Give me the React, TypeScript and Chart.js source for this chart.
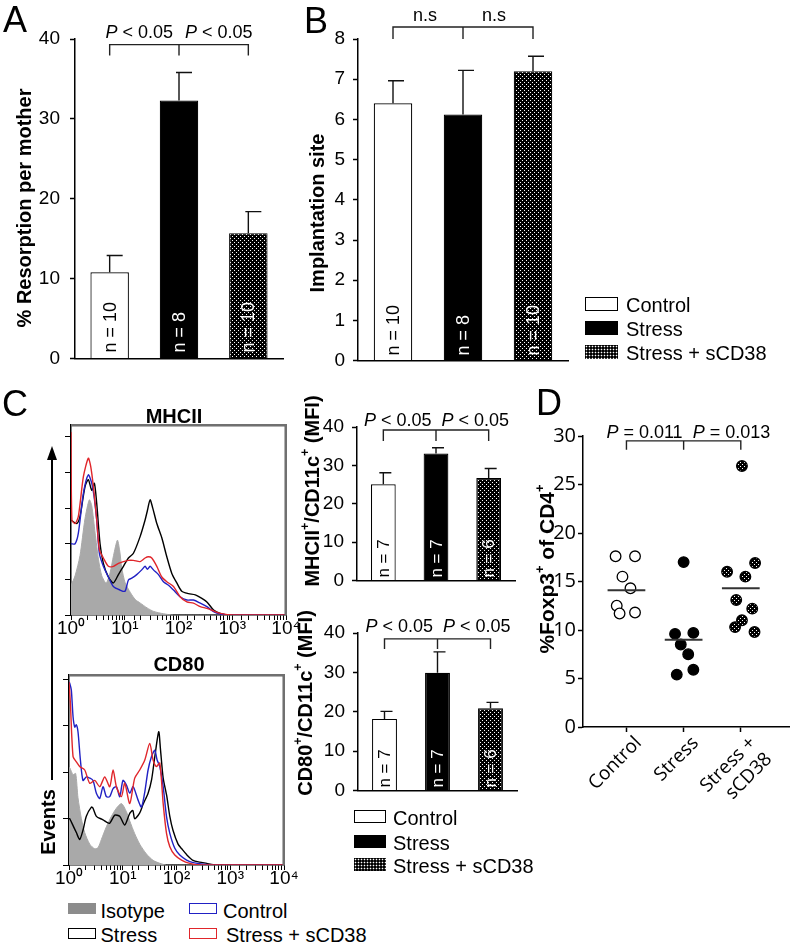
import React, { useEffect, useRef } from 'react';
import { Chart, registerables } from 'chart.js';

Chart.register(...registerables);

const SANS = '"Liberation Sans", Arial, Helvetica, sans-serif';
const OPEN = '"Open Sans", "Liberation Sans", sans-serif';
Chart.defaults.font.family = SANS;
Chart.defaults.color = '#000';

// ---------------- data ----------------
const groups = ['Control', 'Stress', 'Stress + sCD38'];

// A: % resorption per mother
const resorptionMean = [10.8, 32.3, 15.7];
const resorptionSem = [2.1, 3.5, 2.7];
const resorptionN = [10, 8, 10];

// B: implantation site
const implantMean = [6.4, 6.12, 7.2];
const implantSem = [0.56, 1.1, 0.37];
const implantN = [10, 8, 10];

// C: MFI bars
const mhcMean = [25.1, 33.1, 26.7];
const mhcSem = [3.0, 1.5, 2.5];
const cd80Mean = [18.2, 29.9, 20.9];
const cd80Sem = [1.9, 5.3, 1.5];
const mfiN = [7, 7, 6];

// C: histograms (fluorescence, events)
const mhcIsoX = [1.0, 1.19, 1.47, 1.82, 2.19, 2.43, 2.81, 3.24, 3.74, 4.51, 5.36, 6.18, 7.3, 8.0, 8.85, 10.2, 12.7, 15.7, 19.5, 26, 34.6, 53, 82, 10000];
const mhcIsoY = [25, 33, 50, 81, 97, 92, 69, 47, 33, 27, 36, 50, 63, 55, 39, 27, 19, 13, 10, 6, 3, 1, 0, 0];
const mhcStressX = [1.0, 1.28, 1.47, 1.82, 2.1, 2.43, 2.72, 3.01, 3.47, 4.0, 4.96, 6.15, 7.62, 9.44, 11.7, 14.5, 19.3, 23.9, 26.4, 29.6, 33.2, 39.5, 48.9, 60.6, 75.1, 93, 115, 154, 205, 272, 337, 449, 598, 918, 10000];
const mhcStressY = [80, 77, 83, 108, 114, 105, 111, 94, 60, 43.5, 32, 27, 34, 41, 48, 52, 66, 80, 88, 97, 90, 77, 65, 49, 35, 27, 20, 18, 17, 14, 11, 4.2, 1.4, 0, 0];
const mhcControlX = [1.0, 1.19, 1.37, 1.7, 2.1, 2.43, 2.72, 3.01, 3.37, 4.0, 4.96, 6.15, 8.19, 10.1, 11.7, 13.5, 16.7, 20.7, 23.9, 26.4, 29.6, 34.2, 42.4, 52.5, 65.2, 80.7, 107, 143, 190, 254, 337, 449, 598, 918, 10000];
const mhcControlY = [60, 60, 69, 102.5, 118, 111, 98, 80, 52, 41, 32, 24, 21, 20, 29.5, 31, 34, 38, 41, 38.5, 41, 38, 34, 28, 25, 21, 15.4, 12.6, 12.6, 10, 7, 2.8, 0.8, 0, 0];
const mhcSCDX = [1.0, 1.04, 1.19, 1.37, 1.7, 2.1, 2.33, 2.61, 3.01, 3.37, 4.0, 4.96, 6.15, 7.62, 9.44, 11.7, 14.5, 19.3, 23.9, 27.6, 31.8, 39.5, 48.9, 60.6, 80.7, 107, 143, 190, 254, 337, 449, 598, 1060, 10000];
const mhcSCDY = [154, 80, 77, 83, 116.5, 132, 125, 108, 80, 55, 48, 41, 41, 43.5, 45, 46, 46, 45, 48, 49, 48, 41, 32, 28, 24, 15.4, 11, 10, 7, 5.6, 3.4, 1.4, 0, 0];

const cd80IsoX = [1.0, 1.03, 1.19, 1.33, 1.47, 1.7, 1.96, 2.43, 3.01, 3.47, 4.0, 4.96, 6.15, 7.62, 9.5, 11.7, 13.5, 16.7, 20.7, 27.6, 36.7, 48.9, 65.2, 10000];
const cd80IsoY = [84, 84, 78, 79, 58, 40, 28, 18, 14, 15, 22, 33, 42, 49, 53, 46, 38, 27, 18, 9.5, 4, 1.5, 0, 0];
const cd80StressX = [1.0, 1.03, 1.19, 1.37, 1.58, 1.82, 2.1, 2.61, 2.8, 3.23, 4.3, 4.99, 5.72, 7.1, 8.79, 10.9, 13.5, 15.4, 16.7, 20.7, 23.7, 29.6, 34.5, 39.5, 46.7, 50.3, 56.5, 65.6, 75.1, 86, 107, 125, 154, 203, 270, 366, 482, 10000];
const cd80StressY = [40, 40, 34, 28, 22, 30, 42, 50, 49, 42, 39, 37, 36, 43, 42, 34.5, 44.6, 47, 40, 45, 52, 62, 74, 93.5, 115, 100, 75, 60, 42, 30, 18, 14, 9, 4, 2.5, 1.4, 0.3, 0];
const cd80ControlX = [1.0, 1.03, 1.105, 1.19, 1.28, 1.37, 1.47, 1.63, 1.82, 2.1, 2.43, 2.8, 3.23, 3.73, 4.3, 4.96, 5.72, 6.61, 7.62, 8.79, 10.1, 11.7, 13.5, 15.6, 19.3, 22.3, 25.7, 29.6, 34.2, 39.5, 43.6, 48.9, 56.5, 65.2, 75.1, 93, 115, 154, 205, 314, 482, 10000];
const cd80ControlY = [158, 157, 151, 128, 119, 121, 115, 90.6, 73, 76, 75, 73, 62, 57.5, 67.6, 59, 59, 66, 67.6, 59, 73, 69, 62, 67.6, 56, 50, 63, 82, 93.5, 99, 90.6, 85, 67.6, 41.7, 27.3, 14.4, 8.6, 4.3, 2, 0.6, 0, 0];
const cd80SCDX = [1.0, 1.06, 1.19, 1.37, 1.58, 1.96, 2.43, 3.01, 3.73, 4.62, 5.72, 6.61, 7.62, 9.44, 10.9, 13.5, 16.7, 20.7, 25.7, 31.8, 36.7, 42.4, 48.9, 56.5, 65.2, 75.1, 93, 124, 177, 272, 10000];
const cd80SCDY = [158, 140, 93.5, 89, 85, 82, 70.5, 73, 67.6, 76, 67.6, 82, 67.6, 59, 70.5, 53, 75, 82, 90.6, 105, 90.6, 85, 88, 53, 27.3, 15.8, 8.6, 4.3, 1.4, 0, 0];

const logTickSup = ['\u2070', '\u00B9', '\u00B2', '\u00B3', '\u2074'];

// D: %Foxp3+ of CD4+
const foxControl = [17.6, 17.6, 15.5, 14.3, 12.5, 11.7, 11.8];
const foxControlJitter = [-0.19, 0.15, -0.07, 0.07, -0.17, -0.12, 0.15];
const foxStress = [17.0, 9.6, 9.7, 8.5, 7.5, 5.4, 5.9];
const foxStressJitter = [0, -0.15, 0.17, -0.05, 0.08, -0.12, 0.17];
const foxSCD = [26.9, 16.0, 16.9, 15.5, 13.1, 12.2, 11.0, 10.3, 9.8];
const foxSCDJitter = [0.02, -0.24, 0.25, 0.08, -0.08, 0.2, 0.02, -0.1, 0.24];
const foxMean = [14.1, 9.0, 14.3];
const dLabels: (string | string[])[] = ['Control', 'Stress', ['Stress +', 'sCD38']];

// ---------------- helpers ----------------
type Seg = { t: string; i?: boolean; sup?: boolean };
const P_LT: Seg[] = [{ t: 'P', i: true }, { t: ' < 0.05' }];

function segFont(s: Seg, size: number, bold: boolean, fam: string) {
  const sz = s.sup ? size * 0.62 : size;
  return `${s.i ? 'italic ' : ''}${bold ? 'bold ' : ''}${sz}px ${fam}`;
}

function drawSegs(ctx: CanvasRenderingContext2D, segs: Seg[], x: number, y: number, align: 'left' | 'center' | 'right', size: number, bold = false, fam = SANS) {
  ctx.textBaseline = 'middle';
  ctx.textAlign = 'left';
  const widths = segs.map((s) => {
    ctx.font = segFont(s, size, bold, fam);
    return ctx.measureText(s.t).width;
  });
  const total = widths.reduce((a, b) => a + b, 0);
  let cx = align === 'left' ? x : align === 'right' ? x - total : x - total / 2;
  segs.forEach((s, k) => {
    ctx.font = segFont(s, size, bold, fam);
    ctx.fillText(s.t, cx, s.sup ? y - size * 0.36 : y);
    cx += widths[k];
  });
}

function makeDots(): CanvasPattern | string {
  const c = document.createElement('canvas');
  c.width = 4;
  c.height = 4;
  const g = c.getContext('2d');
  if (!g) return '#333';
  g.fillStyle = '#000';
  g.fillRect(0, 0, 4, 4);
  g.fillStyle = '#fff';
  g.fillRect(0, 0, 1, 1);
  g.fillRect(2, 2, 1, 1);
  return g.createPattern(c, 'repeat') || '#333';
}

interface BarSpec {
  means: number[]; sems: number[]; ns: number[];
  yMax: number; yStep: number;
  pad: { top: number; right: number; bottom: number; left: number };
  yWidth: number; tickSize: number; tickPad: number; barPct: number;
  capL: number; capR: number; nSize: number; nGap: number;
  title: Seg[]; titleSize: number; titleAt: [number, number];
  bracketAt: number; bracketDrop: number; textUp: number;
  texts: [Seg[], Seg[]]; textMode: 'split' | 'center'; textGap: [number, number]; textSize: number;
}

function barConfig(spec: BarSpec): any {
  const dots = makeDots();
  const decor = {
    id: 'barDecor',
    afterDraw(chart: any) {
      const ctx: CanvasRenderingContext2D = chart.ctx;
      const ys = chart.scales.y;
      const meta = chart.getDatasetMeta(0);
      const cx: number[] = meta.data.map((b: any) => b.x);
      const y0 = ys.getPixelForValue(0);
      ctx.save();
      ctx.strokeStyle = '#111';
      ctx.lineWidth = 1.4;
      cx.forEach((x, i) => {
        const top = ys.getPixelForValue(spec.means[i]);
        const tip = ys.getPixelForValue(spec.means[i] + spec.sems[i]);
        ctx.beginPath();
        ctx.moveTo(x, top);
        ctx.lineTo(x, tip);
        ctx.moveTo(x + spec.capL, tip);
        ctx.lineTo(x + spec.capR, tip);
        ctx.stroke();
        ctx.save();
        ctx.translate(x, y0 - spec.nGap);
        ctx.rotate(-Math.PI / 2);
        ctx.fillStyle = i === 0 ? '#000' : '#fff';
        ctx.font = `${spec.nSize}px ${SANS}`;
        ctx.textAlign = 'left';
        ctx.textBaseline = 'middle';
        ctx.fillText(`n = ${spec.ns[i]}`, 0, 1);
        ctx.restore();
      });
      const by = ys.getPixelForValue(spec.bracketAt);
      const d = spec.bracketDrop;
      ctx.strokeStyle = '#222';
      ctx.beginPath();
      ctx.moveTo(cx[0], by + d);
      ctx.lineTo(cx[0], by);
      ctx.lineTo(cx[2], by);
      ctx.lineTo(cx[2], by + d);
      ctx.moveTo(cx[1], by);
      ctx.lineTo(cx[1], by + d);
      ctx.stroke();
      ctx.fillStyle = '#000';
      const ty = by - spec.textUp;
      if (spec.textMode === 'split') {
        drawSegs(ctx, spec.texts[0], cx[1] - spec.textGap[0], ty, 'right', spec.textSize);
        drawSegs(ctx, spec.texts[1], cx[1] + spec.textGap[1], ty, 'left', spec.textSize);
      } else {
        drawSegs(ctx, spec.texts[0], (cx[0] + cx[1]) / 2 + spec.textGap[0], ty, 'center', spec.textSize);
        drawSegs(ctx, spec.texts[1], (cx[1] + cx[2]) / 2 + spec.textGap[1], ty, 'center', spec.textSize);
      }
      ctx.translate(spec.titleAt[0], spec.titleAt[1]);
      ctx.rotate(-Math.PI / 2);
      drawSegs(ctx, spec.title, 0, 0, 'center', spec.titleSize, true);
      ctx.restore();
    },
  };
  return {
    type: 'bar',
    data: {
      labels: groups,
      datasets: [
        {
          data: spec.means,
          backgroundColor: ['#ffffff', '#000000', dots],
          borderColor: '#000',
          borderWidth: 1.2,
          barPercentage: spec.barPct,
          categoryPercentage: 1,
        },
      ],
    },
    options: {
      animation: false,
      responsive: false,
      devicePixelRatio: 1,
      layout: { padding: spec.pad },
      plugins: { legend: { display: false }, tooltip: { enabled: false } },
      scales: {
        x: {
          type: 'category',
          offset: true,
          grid: { display: false },
          ticks: { display: false },
          border: { display: true, color: '#000', width: 1.5 },
          afterFit: (s: any) => { s.height = 0; },
        },
        y: {
          min: 0,
          max: spec.yMax,
          ticks: { stepSize: spec.yStep, font: { size: spec.tickSize, family: SANS }, color: '#000', padding: spec.tickPad },
          grid: { drawOnChartArea: false, drawTicks: true, tickLength: 5, tickColor: '#000', tickWidth: 1.5 },
          border: { display: true, color: '#000', width: 1.5 },
          afterFit: (s: any) => { s.width = spec.yWidth; },
        },
      },
    },
    plugins: [decor],
  };
}

function histConfig(series: { x: number[]; y: number[]; color: string; fill?: boolean }[], yMax: number, yStep: number, pad: any, yWidth: number): any {
  const frame = {
    id: 'histFrame',
    afterDraw(chart: any) {
      const ctx: CanvasRenderingContext2D = chart.ctx;
      const a = chart.chartArea;
      ctx.save();
      ctx.strokeStyle = '#666666';
      ctx.lineWidth = 1.5;
      ctx.beginPath();
      ctx.moveTo(a.left, a.top + 0.75);
      ctx.lineTo(a.right - 0.75, a.top + 0.75);
      ctx.lineTo(a.right - 0.75, a.bottom);
      ctx.stroke();
      ctx.restore();
    },
  };
  return {
    type: 'line',
    data: {
      datasets: series.map((s, k) => ({
        data: s.x.map((x, i) => ({ x, y: s.y[i] })),
        borderColor: s.color,
        backgroundColor: s.fill ? '#a9a9a9' : 'transparent',
        fill: s.fill ? 'origin' : false,
        borderWidth: s.fill ? 1 : 1.4,
        pointRadius: 0,
        tension: 0.25,
        order: series.length - k,
      })),
    },
    options: {
      animation: false,
      responsive: false,
      devicePixelRatio: 1,
      layout: { padding: pad },
      plugins: { legend: { display: false }, tooltip: { enabled: false } },
      scales: {
        x: {
          type: 'logarithmic',
          min: 1,
          max: 10000,
          ticks: {
            autoSkip: false,
            maxRotation: 0,
            minRotation: 0,
            padding: -3,
            font: { size: 19, family: SANS },
            color: '#000',
            callback: (v: any) => {
              const l = Math.log10(Number(v));
              const r = Math.round(l);
              return Math.abs(l - r) < 1e-6 ? '10' + logTickSup[r] : '';
            },
          },
          grid: { drawOnChartArea: false, drawTicks: true, tickLength: 5, tickColor: '#000', tickWidth: 1 },
          border: { display: true, color: '#000', width: 1.5 },
          afterFit: (s: any) => { s.height = 25; },
        },
        y: {
          min: 0,
          max: yMax,
          ticks: { display: false, stepSize: yStep, includeBounds: false },
          grid: { drawOnChartArea: false, drawTicks: true, tickLength: 6, tickColor: '#000', tickWidth: 1 },
          border: { display: true, color: '#000', width: 1.5 },
          afterFit: (s: any) => { s.width = yWidth; },
        },
      },
    },
    plugins: [frame],
  };
}

function buildA() {
  return barConfig({
    means: resorptionMean, sems: resorptionSem, ns: resorptionN,
    yMax: 40, yStep: 10, pad: { top: 39, right: 17, bottom: 17, left: 0 },
    yWidth: 75, tickSize: 19, tickPad: 10, barPct: 0.555,
    capL: -3, capR: 13, nSize: 18, nGap: 6,
    title: [{ t: '% Resorption per mother' }], titleSize: 20, titleAt: [25, 208],
    bracketAt: 39.3, bracketDrop: 11, textUp: 12,
    texts: [P_LT, P_LT], textMode: 'split', textGap: [6, 6], textSize: 18,
  });
}

function buildB() {
  return barConfig({
    means: implantMean, sems: implantSem, ns: implantN,
    yMax: 8, yStep: 1, pad: { top: 39, right: 22, bottom: 17, left: 0 },
    yWidth: 68, tickSize: 19, tickPad: 8, barPct: 0.55,
    capL: -5, capR: 11, nSize: 18, nGap: 5,
    title: [{ t: 'Implantation site' }], titleSize: 20, titleAt: [28, 213],
    bracketAt: 8.3, bracketDrop: 12, textUp: 10.5,
    texts: [[{ t: 'n.s' }], [{ t: 'n.s' }]], textMode: 'center', textGap: [-3, -4], textSize: 18,
  });
}

function buildC1() {
  return barConfig({
    means: mhcMean, sems: mhcSem, ns: mfiN,
    yMax: 40, yStep: 10, pad: { top: 47, right: 15, bottom: 17, left: 0 },
    yWidth: 67, tickSize: 19, tickPad: 8, barPct: 0.47,
    capL: -4, capR: 8, nSize: 17, nGap: 3,
    title: [{ t: 'MHCII' }, { t: '+', sup: true }, { t: '/CD11c' }, { t: '+', sup: true }, { t: ' (MFI)' }],
    titleSize: 20, titleAt: [23, 111],
    bracketAt: 39.2, bracketDrop: 11, textUp: 9,
    texts: [P_LT, P_LT], textMode: 'split', textGap: [4.5, 5.5], textSize: 18,
  });
}

function buildC2() {
  return barConfig({
    means: cd80Mean, sems: cd80Sem, ns: mfiN,
    yMax: 40, yStep: 10, pad: { top: 33, right: 13, bottom: 19, left: 0 },
    yWidth: 68, tickSize: 19, tickPad: 8, barPct: 0.47,
    capL: -4, capR: 8, nSize: 17, nGap: 3,
    title: [{ t: 'CD80' }, { t: '+', sup: true }, { t: '/CD11c' }, { t: '+', sup: true }, { t: ' (MFI)' }],
    titleSize: 20, titleAt: [16, 103],
    bracketAt: 38.5, bracketDrop: 10, textUp: 12,
    texts: [P_LT, P_LT], textMode: 'split', textGap: [4.5, 5.5], textSize: 18,
  });
}

function buildH1() {
  return histConfig(
    [
      { x: mhcIsoX, y: mhcIsoY, color: '#a9a9a9', fill: true },
      { x: mhcStressX, y: mhcStressY, color: '#000000' },
      { x: mhcControlX, y: mhcControlY, color: '#2121c4' },
      { x: mhcSCDX, y: mhcSCDY, color: '#e0262b' },
    ],
    160, 30, { top: 25, right: 14, bottom: 0, left: 0 }, 31,
  );
}

function buildH2() {
  return histConfig(
    [
      { x: cd80IsoX, y: cd80IsoY, color: '#a9a9a9', fill: true },
      { x: cd80StressX, y: cd80StressY, color: '#000000' },
      { x: cd80ControlX, y: cd80ControlY, color: '#2121c4' },
      { x: cd80SCDX, y: cd80SCDY, color: '#e0262b' },
    ],
    164, 40, { top: 25, right: 16, bottom: 0, left: 0 }, 29,
  );
}

function buildD() {
  const dots = makeDots();
  const pts = (vals: number[], jit: number[], g: number) => vals.map((v, k) => ({ x: g + jit[k], y: v }));
  const meanLine = (g: number) => [{ x: g - 0.33, y: foxMean[g] }, { x: g + 0.33, y: foxMean[g] }];
  const pointStyle = { pointRadius: 5.3, pointBorderColor: '#000', pointBorderWidth: 1.3, showLine: false };
  const decor = {
    id: 'dDecor',
    afterDraw(chart: any) {
      const ctx: CanvasRenderingContext2D = chart.ctx;
      const xs = chart.scales.x;
      const ys = chart.scales.y;
      const cx = [0, 1, 2].map((g) => xs.getPixelForValue(g));
      const by = ys.getPixelForValue(29.5);
      ctx.save();
      ctx.strokeStyle = '#222';
      ctx.lineWidth = 1.4;
      ctx.beginPath();
      ctx.moveTo(cx[0], by + 9);
      ctx.lineTo(cx[0], by);
      ctx.lineTo(cx[2], by);
      ctx.lineTo(cx[2], by + 9);
      ctx.moveTo(cx[1], by);
      ctx.lineTo(cx[1], by + 9);
      ctx.stroke();
      ctx.fillStyle = '#000';
      drawSegs(ctx, [{ t: 'P', i: true }, { t: ' = 0.011' }], cx[1] - 1, by - 8, 'right', 18);
      drawSegs(ctx, [{ t: 'P', i: true }, { t: ' = 0.013' }], cx[1] + 9, by - 8, 'left', 18);
      ctx.translate(18, 189);
      ctx.rotate(-Math.PI / 2);
      drawSegs(ctx, [{ t: '%Foxp3' }, { t: '+', sup: true }, { t: ' of CD4' }, { t: '+', sup: true }], 0, 0, 'center', 21, true);
      ctx.restore();
    },
  };
  return {
    type: 'scatter',
    data: {
      datasets: [
        ...[0, 1, 2].map((g) => ({
          type: 'line',
          data: meanLine(g),
          borderColor: '#333',
          borderWidth: 2,
          pointRadius: 0,
          showLine: true,
          fill: false,
        })),
        { data: pts(foxControl, foxControlJitter, 0), pointBackgroundColor: '#ffffff', ...pointStyle },
        { data: pts(foxStress, foxStressJitter, 1), pointBackgroundColor: '#000000', ...pointStyle },
        { data: pts(foxSCD, foxSCDJitter, 2), pointBackgroundColor: dots, ...pointStyle },
      ],
    },
    options: {
      animation: false,
      responsive: false,
      devicePixelRatio: 1,
      layout: { padding: { top: 56, right: 0, bottom: 0, left: 0 } },
      plugins: { legend: { display: false }, tooltip: { enabled: false } },
      scales: {
        x: {
          type: 'linear',
          min: -0.76,
          max: 2.85,
          afterBuildTicks: (s: any) => { s.ticks = [0, 1, 2].map((v) => ({ value: v })); },
          ticks: {
            autoSkip: false,
            minRotation: 45,
            maxRotation: 45,
            padding: 0,
            labelOffset: 12,
            font: { size: 19, family: OPEN },
            color: '#000',
            callback: (v: any) => dLabels[Number(v)] ?? '',
          },
          grid: { drawOnChartArea: false, drawTicks: true, tickLength: 5, tickColor: '#000', tickWidth: 1.5 },
          border: { display: true, color: '#000', width: 1.5 },
          afterFit: (s: any) => { s.height = 93; },
        },
        y: {
          min: 0,
          max: 30,
          ticks: { stepSize: 5, font: { size: 20, family: OPEN }, color: '#000', padding: 2 },
          grid: { drawOnChartArea: false, drawTicks: true, tickLength: 5, tickColor: '#000', tickWidth: 1.5 },
          border: { display: true, color: '#000', width: 1.5 },
          afterFit: (s: any) => { s.width = 53; },
        },
      },
    },
    plugins: [decor],
  };
}

// ---------------- components ----------------
function ChartBox(props: { left: number; top: number; width: number; height: number; build: () => any }) {
  const ref = useRef<HTMLCanvasElement | null>(null);
  useEffect(() => {
    if (!ref.current) return;
    const chart = new Chart(ref.current, props.build());
    return () => chart.destroy();
  }, []);
  return (
    <canvas
      ref={ref}
      width={props.width}
      height={props.height}
      style={{ position: 'absolute', left: props.left, top: props.top, width: props.width, height: props.height }}
    />
  );
}

function Txt(p: { x: number; y: number; size?: number; bold?: boolean; center?: boolean; children: any }) {
  return (
    <div
      style={{
        position: 'absolute',
        left: p.x,
        top: p.y,
        fontSize: p.size ?? 20,
        lineHeight: 1,
        fontWeight: p.bold ? 'bold' : 'normal',
        whiteSpace: 'nowrap',
        transform: p.center ? 'translateX(-50%)' : undefined,
      }}
    >
      {p.children}
    </div>
  );
}

function Swatch(p: { x: number; y: number; w: number; h: number; kind: 'white' | 'black' | 'dots' | 'gray' | 'outline'; color?: string }) {
  const base: any = { position: 'absolute', left: p.x, top: p.y, width: p.w, height: p.h, boxSizing: 'border-box' };
  if (p.kind === 'white') Object.assign(base, { border: '1.5px solid #000', background: '#fff' });
  if (p.kind === 'black') Object.assign(base, { background: '#000' });
  if (p.kind === 'gray') Object.assign(base, { background: '#8c8c8c' });
  if (p.kind === 'outline') Object.assign(base, { border: `1.5px solid ${p.color}`, background: '#fff' });
  if (p.kind === 'dots')
    Object.assign(base, {
      backgroundColor: '#000',
      backgroundImage: 'radial-gradient(circle at center, #fff 0.7px, transparent 1.1px)',
      backgroundSize: '3px 3px',
    });
  return <div style={base} />;
}

export default function App() {
  return (
    <div
      style={{
        position: 'absolute', left: 0, top: 0, width: 796, height: 948,
        background: '#fff', overflow: 'hidden', fontFamily: SANS, color: '#000',
      }}
    >
      <ChartBox left={0} top={0} width={300} height={380} build={buildA} />
      <ChartBox left={290} top={0} width={300} height={380} build={buildB} />
      <ChartBox left={40} top={400} width={260} height={240} build={buildH1} />
      <ChartBox left={40} top={650} width={260} height={240} build={buildH2} />
      <ChartBox left={290} top={380} width={240} height={220} build={buildC1} />
      <ChartBox left={290} top={600} width={240} height={210} build={buildC2} />
      <ChartBox left={530} top={380} width={266} height={440} build={buildD} />

      {/* histogram frame edges (top / right) */}
      <div style={{ position: 'absolute', zIndex: 5, left: 71, top: 424, width: 215, height: 2, background: '#707070' }} />
      <div style={{ position: 'absolute', zIndex: 5, left: 284.5, top: 424, width: 2, height: 191, background: '#707070' }} />
      <div style={{ position: 'absolute', zIndex: 5, left: 69, top: 674, width: 215, height: 2, background: '#707070' }} />
      <div style={{ position: 'absolute', zIndex: 5, left: 282.5, top: 674, width: 2, height: 191, background: '#707070' }} />

      {/* panel letters */}
      <Txt x={3} y={2} size={36}>A</Txt>
      <Txt x={304} y={3} size={36}>B</Txt>
      <Txt x={2} y={386} size={36}>C</Txt>
      <Txt x={536} y={385} size={36}>D</Txt>

      {/* histogram titles */}
      <Txt x={174} y={406} bold center>MHCII</Txt>
      <Txt x={179} y={654} bold center>CD80</Txt>

      {/* Events arrow */}
      <div style={{ position: 'absolute', left: 51, top: 458, width: 2, height: 322, background: '#000' }} />
      <div
        style={{
          position: 'absolute', left: 47, top: 446, width: 0, height: 0,
          borderLeft: '5px solid transparent', borderRight: '5px solid transparent', borderBottom: '14px solid #000',
        }}
      />
      <div
        style={{
          position: 'absolute', left: 48, top: 822, fontSize: 20, fontWeight: 'bold', lineHeight: 1,
          whiteSpace: 'nowrap', transform: 'translate(-50%, -50%) rotate(-90deg)',
        }}
      >
        Events
      </div>

      {/* legend A/B */}
      <Swatch x={585} y={297} w={33} h={14} kind="white" />
      <Swatch x={585} y={321} w={33} h={14} kind="black" />
      <Swatch x={585} y={345} w={33} h={14} kind="dots" />
      <Txt x={626} y={295}>{groups[0]}</Txt>
      <Txt x={626} y={319}>{groups[1]}</Txt>
      <Txt x={626} y={342.5}>{groups[2]}</Txt>

      {/* legend C bars */}
      <Swatch x={354} y={810} w={32} h={13} kind="white" />
      <Swatch x={354} y={835} w={32} h={13} kind="black" />
      <Swatch x={354} y={858} w={32} h={13} kind="dots" />
      <Txt x={393} y={807.5}>{groups[0]}</Txt>
      <Txt x={393} y={832.5}>{groups[1]}</Txt>
      <Txt x={393} y={855.5}>{groups[2]}</Txt>

      {/* legend histograms */}
      <Swatch x={68} y={903} w={28} h={11} kind="gray" />
      <Txt x={100.5} y={900.5}>Isotype</Txt>
      <Swatch x={189} y={903} w={28} h={11} kind="outline" color="#2121c4" />
      <Txt x={223} y={900.5}>Control</Txt>
      <Swatch x={68} y={928} w={28} h={11} kind="outline" color="#000" />
      <Txt x={100.5} y={924.5}>Stress</Txt>
      <Swatch x={189} y={928} w={28} h={11} kind="outline" color="#e0262b" />
      <Txt x={226} y={924.5}>Stress + sCD38</Txt>
    </div>
  );
}
